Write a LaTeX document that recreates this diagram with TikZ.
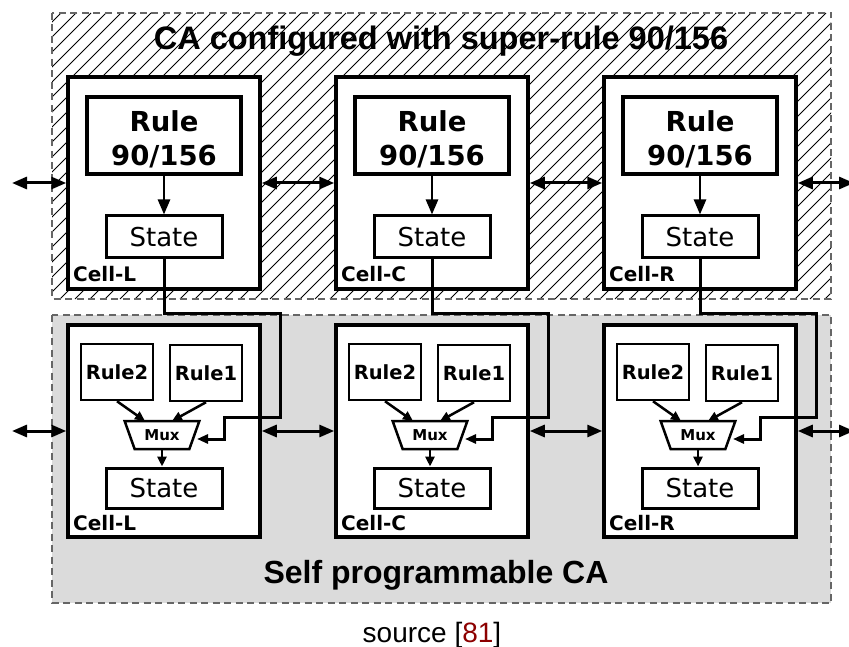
\documentclass[tikz,border=0pt]{standalone}
\usepackage{fontspec}
\setmainfont{Liberation Sans}
\newfontfamily\dejavu{DejaVu Sans}
\usetikzlibrary{arrows.meta,shapes.geometric,calc}

\begin{document}
\begin{tikzpicture}[x=1pt, y=-1pt, >={Triangle[length=15pt,width=12pt]},
    zone/.style={draw=black!60, line width=2.5pt, dash pattern=on 7pt off 4.5pt},
    hatch/.style={line width=0.8pt},
    cell/.style={draw, line width=3.5pt, fill=white, minimum width=192pt, minimum height=212pt, inner sep=0pt},
    rulebox/.style={draw, line width=3.5pt, fill=white, minimum width=154pt, minimum height=77pt, inner sep=0pt, align=center, font=\dejavu\bfseries\fontsize{27.5}{34}\selectfont},
    statebox/.style={draw, line width=3pt, fill=white, minimum width=116pt, minimum height=42pt, inner sep=0pt, font=\dejavu\fontsize{26}{30}\selectfont},
    minirule/.style={draw, line width=2.5pt, fill=white, minimum width=72pt, minimum height=56pt, inner sep=0pt, font=\dejavu\bfseries\fontsize{19.5}{22}\selectfont},
    mux/.style={draw, line width=2.5pt, fill=white, trapezium, shape border rotate=180, trapezium left angle=60, trapezium right angle=60, trapezium stretches=true, minimum width=75pt, minimum height=28pt, inner sep=0pt, font=\dejavu\bfseries\fontsize{15}{17}\selectfont},
    celllbl/.style={anchor=base west, inner sep=0pt, font=\dejavu\bfseries\fontsize{20}{24}\selectfont},
    link/.style={<->, line width=3pt},
    tip/.style={->, line width=2.5pt},
    small/.style={-{Triangle[length=10pt,width=9pt]}, line width=2.5pt},
    feed/.style={-{Triangle[length=11pt,width=9pt]}, line width=3pt}]

    \useasboundingbox (0,0) rectangle (849,647);

    % Zones
    \begin{scope}
        \clip (52,13) rectangle (831,299);
        \foreach \i in {-240,-225,...,840} {
            \draw[hatch] (\i,299) -- ++(286,-286);
        }
    \end{scope}
    \draw[zone] (52,13) rectangle (831,299);
    \node[inner sep=0pt, anchor=base, font=\bfseries\fontsize{32.5}{38}\selectfont] (top) at (441,50) {CA configured with super-rule 90/156};
    \draw[zone, fill=black!14] (52,315) rectangle (831,603);
    \node[inner sep=0pt, anchor=base, font=\bfseries\fontsize{32}{38}\selectfont] (bottom) at (436,583) {Self programmable CA};
    \node[inner sep=0pt, anchor=base, font=\fontsize{28}{32}\selectfont] (src) at (432,642) {source [\textcolor{red!55!black}{81}]};

    % Cells
    \foreach \n/\x in {L/164, C/432, R/700} {
        % configured CA
        \node[cell] (cT\n) at (\x,183) {};
        \node[rulebox] (rT\n) at (\x,135.5) {\rule{0pt}{29pt}Rule\\90/156};
        \node[statebox] (sT\n) at (\x,237) {State};
        \node[celllbl] (lT\n) at (\x-91,282) {Cell-\n};
        \draw[tip] (rT\n) -- (sT\n);

        % self programmable CA
        \node[cell] (cB\n) at (\x,431) {};
        \node[minirule] (r2B\n) at (\x-47,372) {Rule2};
        \node[minirule] (r1B\n) at (\x+42,373) {Rule1};
        \node[mux] (mB\n) at (\x-2,435) {Mux};
        \node[statebox, minimum height=40pt] (sB\n) at (\x,488) {State};
        \node[celllbl] (lB\n) at (\x-91,530) {Cell-\n};
        \coordinate (in2\n) at ($(mB\n)+(-17,-14)$);
        \coordinate (in1\n) at ($(mB\n)+(10,-14)$);
        \coordinate (out\n) at ($(mB\n)+(0,14)$);
        \coordinate (sel\n) at ($(mB\n)+(35,4)$);
        \draw[small] (r2B\n.south) -- (in2\n);
        \draw[small] (r1B\n.south) -- (in1\n);
        \draw[small] (out\n) -- (out\n |- sB\n.north);

        % feedback from the configured state
        \draw[feed] (sT\n.south) |- (\x+116,313) |- (\x+60,417) -- (\x+60,439) -- (sel\n);
    }

    % Edges
    \coordinate (tIn) at (12,183);
    \coordinate (tOut) at (854,183);
    \coordinate (bIn) at (12,431);
    \coordinate (bOut) at (854,431);
    \draw[link] (tIn) -- (cTL.west);
    \draw[link] (cTL.east) -- (cTC.west);
    \draw[link] (cTC.east) -- (cTR.west);
    \draw[link] (cTR.east) -- (tOut);
    \draw[link] (bIn) -- (cBL.west);
    \draw[link] (cBL.east) -- (cBC.west);
    \draw[link] (cBC.east) -- (cBR.west);
    \draw[link] (cBR.east) -- (bOut);
\end{tikzpicture}
\end{document}
